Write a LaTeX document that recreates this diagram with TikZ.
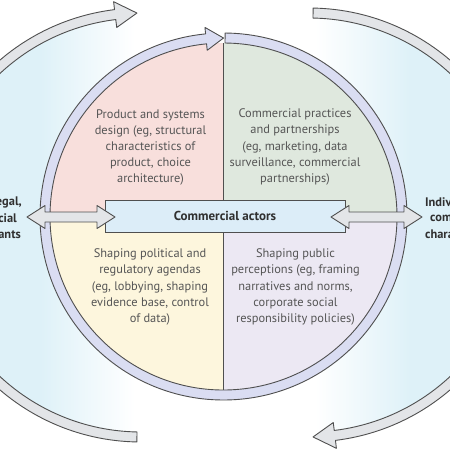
\documentclass[tikz,border=0pt]{standalone}
\usepackage{fontspec}
\setmainfont{PT Sans}
\usetikzlibrary{calc}
\definecolor{bgblue}{HTML}{DEF1F8}
\definecolor{ringfill}{HTML}{DADDF2}
\definecolor{edgegray}{HTML}{4F4F4F}
\definecolor{arcfill}{HTML}{E3E5E8}
\definecolor{qpink}{HTML}{F8DFDC}
\definecolor{qgreen}{HTML}{DFE8DE}
\definecolor{qyellow}{HTML}{FDF6DD}
\definecolor{qlav}{HTML}{ECE8F3}
\definecolor{boxblue}{HTML}{DCEDF8}
\definecolor{qtextgray}{HTML}{555555}
\definecolor{darktext}{HTML}{303030}
\begin{document}
\begin{tikzpicture}[x=1pt,y=-1pt,
  bandstyle/.style={fill=arcfill, draw=edgegray, line width=0.9pt, line join=round},
  ringstyle/.style={fill=ringfill, draw=edgegray, line width=0.9pt, line join=round},
  dblarrow/.style={fill=arcfill, draw=edgegray, line width=0.9pt, line join=round},
  qtext/.style={align=center, text=qtextgray, inner sep=0pt, font=\fontsize{12.4}{16.2}\selectfont},
  sidetext/.style={text=darktext, inner sep=0pt, font=\bfseries\fontsize{12.4}{16}\selectfont},
  boxstyle/.style={fill=boxblue, draw=edgegray, line width=0.9pt, minimum width=240pt, minimum height=32pt, inner sep=0pt, text=darktext, font=\bfseries\fontsize{13}{14}\selectfont}]
\useasboundingbox (0,0) rectangle (450,450);
\clip (0,0) rectangle (450,450);
\fill[white] (0,0) rectangle (450,450);
% background shading, left big circle
\begin{scope}
  \clip (141,225) circle[radius=212];
  \fill[bgblue] (-80,0) rectangle (40,450);
  \shade[left color=bgblue, right color=white] (40,0) rectangle (135,450);
\end{scope}
% background shading, right big circle
\begin{scope}
  \clip (309,225) circle[radius=212];
  \fill[bgblue] (410,0) rectangle (530,450);
  \shade[left color=white, right color=bgblue] (315,0) rectangle (410,450);
\end{scope}
% left outer arc arrow (clockwise, head at top)
\begin{scope}[shift={(141,225)}]
  \filldraw[bandstyle] (91.1:217) arc[start angle=91.1, end angle=263, radius=217]
    -- (263:225) -- (268.9:212) -- (263:199) -- (263:207)
    arc[start angle=263, end angle=91.1, radius=207] -- cycle;
\end{scope}
% right outer arc arrow (clockwise, head at bottom)
\begin{scope}[shift={(309,225)}]
  \filldraw[bandstyle] (-88.9:217) arc[start angle=-88.9, end angle=83, radius=217]
    -- (83:225) -- (88.9:212) -- (83:199) -- (83:207)
    arc[start angle=83, end angle=-88.9, radius=207] -- cycle;
\end{scope}
% main disc
\begin{scope}[shift={(223.5,216.5)}]
  \fill[qpink] (0,0) -- (180:173.5) arc[start angle=180, end angle=270, radius=173.5] -- cycle;
  \fill[qgreen] (0,0) -- (270:173.5) arc[start angle=270, end angle=360, radius=173.5] -- cycle;
  \fill[qlav] (0,0) -- (0:173.5) arc[start angle=0, end angle=90, radius=173.5] -- cycle;
  \fill[qyellow] (0,0) -- (90:173.5) arc[start angle=90, end angle=180, radius=173.5] -- cycle;
  \draw[edgegray, line width=0.9pt] (270:173.5) -- (90:173.5);
  \draw[edgegray, line width=0.9pt] (180:173.5) -- (0:173.5);
  % ring arrow, clockwise, head at top
  \filldraw[ringstyle] (-89.5:183.5) arc[start angle=-89.5, end angle=264.4, radius=183.5]
    -- (264.4:190) -- (270:178.5) -- (264.4:167) -- (264.4:173.5)
    arc[start angle=264.4, end angle=-89.5, radius=173.5] -- cycle;
\end{scope}
% quadrant texts
\node[qtext] (tl) at (150.5,147.5) {Product and systems\\design (eg, structural\\characteristics of\\product, choice\\architecture)};
\node[qtext] (tr) at (295,147) {Commercial practices\\and partnerships\\(eg, marketing, data\\surveillance, commercial\\partnerships)};
\node[qtext] (bl) at (150,287) {Shaping political and\\regulatory agendas\\(eg, lobbying, shaping\\evidence base, control\\of data)};
\node[qtext] (br) at (295.5,287) {Shaping public\\perceptions (eg, framing\\narratives and norms,\\corporate social\\responsibility policies)};
% central box
\node[boxstyle] (actors) at (225,216) {Commercial actors};
% double arrows
\coordinate (la) at (27,217);
\coordinate (lb) at (115,217);
\coordinate (ra) at (331,217);
\coordinate (rb) at (422,217);
\filldraw[dblarrow] (la) -- ++(18,-11.5) -- ++(0,6.5) -- ($(lb)+(-18,-5)$) -- ++(0,-6.5) -- (lb)
  -- ++(-18,11.5) -- ++(0,-6.5) -- ($(la)+(18,5)$) -- ++(0,6.5) -- cycle;
\filldraw[dblarrow] (ra) -- ++(18,-11.5) -- ++(0,6.5) -- ($(rb)+(-18,-5)$) -- ++(0,-6.5) -- (rb)
  -- ++(-18,11.5) -- ++(0,-6.5) -- ($(ra)+(18,5)$) -- ++(0,6.5) -- cycle;
% side texts
\node[sidetext, anchor=east] (l1) at (22,202) {Political, legal,};
\node[sidetext, anchor=east] (l2) at (17,218) {and social};
\node[sidetext, anchor=east] (l3) at (21,234) {determinants};
\node[sidetext, anchor=west] (r1) at (425,202) {Individual and};
\node[sidetext, anchor=west] (r2) at (430,218) {community};
\node[sidetext, anchor=west] (r3) at (425,234) {characteristics};
\end{tikzpicture}
\end{document}
